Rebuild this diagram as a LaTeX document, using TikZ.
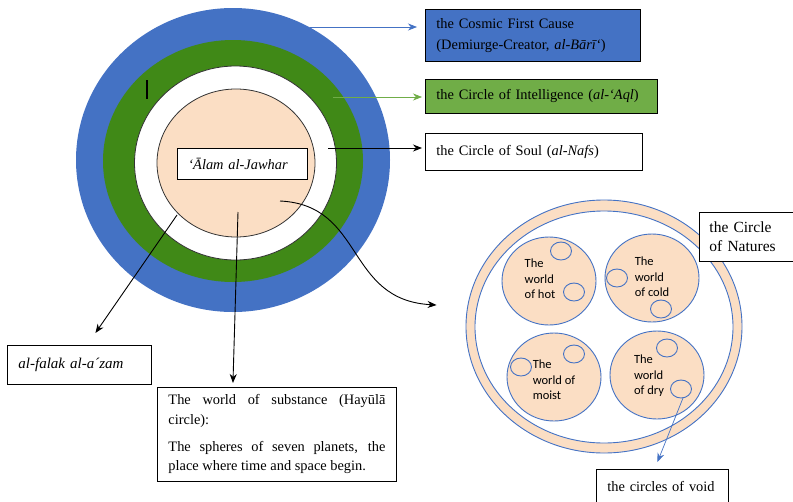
\documentclass[tikz,border=0pt]{standalone}
\usepackage{fontspec}
\setmainfont{Liberation Serif}
\newfontfamily\calib{Carlito}
\usetikzlibrary{arrows.meta, shapes.geometric}

\definecolor{ringblue}{RGB}{68,114,196}
\definecolor{ringgreen}{RGB}{64,137,23}
\definecolor{boxgreen}{RGB}{112,173,71}
\definecolor{peach}{RGB}{251,222,196}

\begin{document}
\begin{tikzpicture}[x=1pt, y=-1pt, >={Stealth[length=9pt, width=7pt]},
    lbl/.style={draw, line width=0.9pt, anchor=north west, inner xsep=11pt, inner ysep=0pt,
        align=left, font=\fontsize{14.4}{21}\selectfont},
    world/.style={align=left, inner sep=0pt, font=\calib\fontsize{12.5}{15.5}\selectfont},
    link/.style={->, line width=0.9pt}]
\useasboundingbox (0,0) rectangle (793,501);

% rings of the cosmos
\fill[ringblue] (233,160) ellipse [x radius=157, y radius=152];
\fill[ringgreen] (233,161) ellipse [x radius=130, y radius=121];
\filldraw[fill=white, draw=black!80, line width=0.8pt] (235.5,163) ellipse [x radius=101, y radius=97];
\filldraw[fill=peach, draw=black!80, line width=0.8pt] (236,163) ellipse [x radius=79, y radius=74];
\draw[line width=1.5pt] (147,80) -- (147,99);

% circle of natures
\node[ellipse, draw=ringblue, fill=peach, line width=0.9pt, inner sep=0pt,
    minimum width=276pt, minimum height=253pt] (natures) at (604,326.5) {};
\filldraw[fill=white, draw=ringblue, line width=0.9pt] (604,327) ellipse [x radius=129, y radius=116];
\foreach \cx/\cy in {549/281, 652/278, 554/377, 657/375}
    \filldraw[fill=peach, draw=ringblue, line width=0.9pt] (\cx,\cy) ellipse [x radius=47, y radius=44];
\foreach \cx/\cy in {561/251, 574/292, 617/278, 661/309, 521/367, 574/354, 667/348, 681/389}
    \filldraw[fill=peach, draw=ringblue, line width=0.9pt] (\cx,\cy) ellipse [x radius=10.5, y radius=9];

\node[world] (hot) at (540,279) {The\\world\\of hot};
\node[world] (cold) at (652,277) {The\\world\\of cold};
\node[world] (moist) at (554,380) {The\\world of\\moist};
\node[world] (dry) at (649,376) {The\\world\\of dry};

% labels
\node[lbl, fill=ringblue, minimum width=215pt, minimum height=52pt, text width=193pt] (cosmic) at (425,9)
    {the Cosmic First Cause\\(Demiurge-Creator, \textit{al-Bārī‘})};
\node[lbl, fill=boxgreen, minimum width=232pt, minimum height=34pt, text width=210pt] (intel) at (425,79)
    {the Circle of Intelligence (\textit{al-‘Aql})};
\node[lbl, fill=white, minimum width=217pt, minimum height=37pt, text width=195pt] (soul) at (425,133)
    {the Circle of Soul (\textit{al-Nafs})};
\node[lbl, fill=white, minimum width=130pt, minimum height=31pt, text width=108pt] (jawhar) at (177,148)
    {\textit{‘Ālam al-Jawhar}};
\node[lbl, fill=white, minimum width=144pt, minimum height=39pt, text width=122pt,
    font=\fontsize{15}{18}\selectfont] (falak) at (7,345) {\textit{al-falak al-a´zam}};
\node[lbl, fill=white, minimum width=239pt, minimum height=94pt, text width=217pt, align=justify,
    font=\fontsize{14.4}{19.5}\selectfont] (subst) at (157,387)
    {\hyphenpenalty=10000\tolerance=10000\relax
    The world of substance (Hayūlā circle):\par\vspace{7.5pt}The spheres of seven planets, the place where time and space begin.};
\node[lbl, fill=white, inner xsep=10pt, minimum width=94pt, minimum height=49pt, text width=74pt,
    font=\fontsize{15.5}{19}\selectfont] (naturebox) at (699,212) {the Circle\\of Natures};
\node[lbl, fill=white, minimum width=132pt, minimum height=34pt, text width=110pt] (void) at (596,469)
    {the circles of void};

% connectors
\coordinate (cosmicpt) at (310,27);
\coordinate (intelpt) at (333,97);
\coordinate (soulpt) at (328,148);
\coordinate (falakpt) at (177,215);
\coordinate (substpt) at (238,212);
\coordinate (jawharpt) at (280,201);
\coordinate (voidpt) at (683,398);
\draw[link, ringblue, line width=0.7pt, shorten >=8pt] (cosmicpt) -- (cosmicpt -| cosmic.west);
\draw[link, boxgreen, line width=0.7pt, shorten >=3pt] (intelpt) -- (intelpt -| intel.west);
\draw[link, shorten >=3pt] (soulpt) -- (soulpt -| soul.west);
\draw[link] (falakpt) -- ([xshift=16pt, yshift=12pt]falak.north);
\draw[link] (substpt) -- ([xshift=-44pt, yshift=4pt]subst.north);
\draw[link] (jawharpt) .. controls (365,205) and (345,300) .. ([xshift=-29pt, yshift=21.5pt]natures.west);
\draw[link, ringblue, line width=0.7pt] (voidpt) -- ([xshift=-5pt, yshift=7pt]void.north);
\end{tikzpicture}
\end{document}
